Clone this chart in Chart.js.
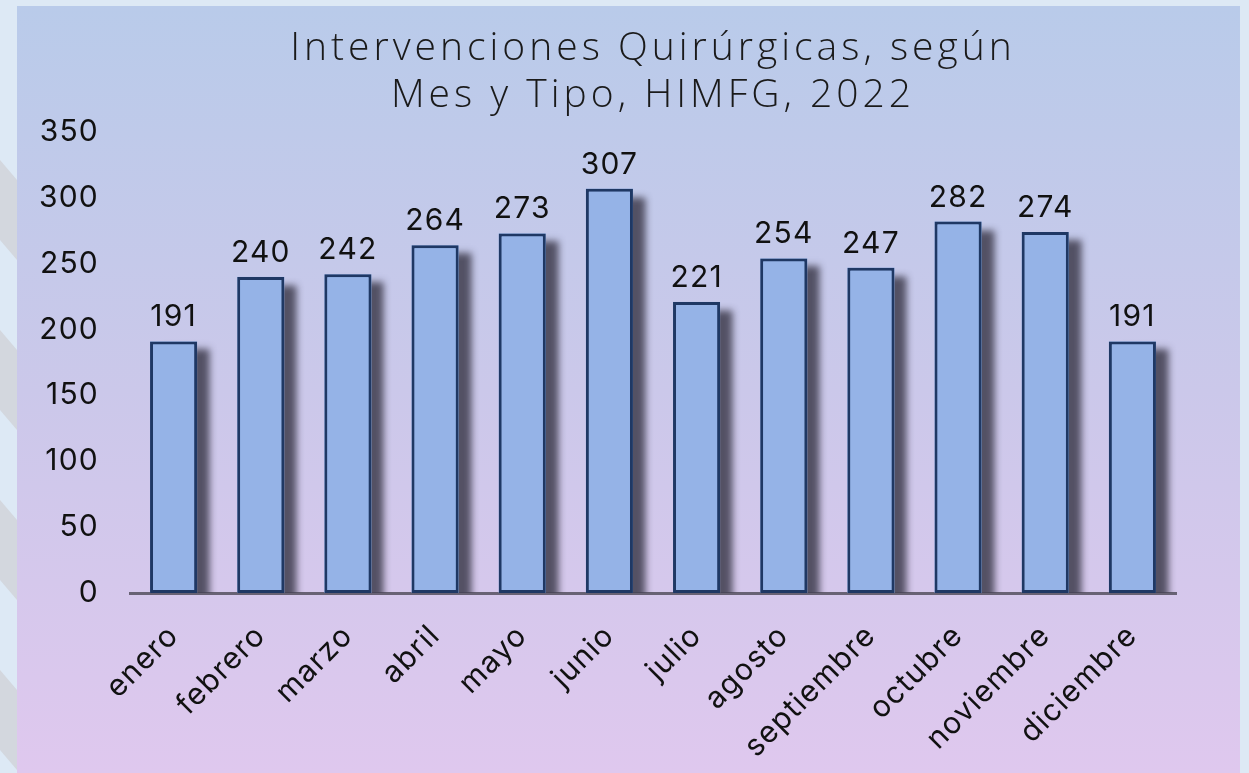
<!DOCTYPE html>
<html>
<head>
<meta charset="utf-8">
<script src="https://cdn.jsdelivr.net/npm/chart.js@4.4.0/dist/chart.umd.min.js"></script>
<style>
  html, body { margin: 0; padding: 0; background: #dde9f5; }
  #wrap { width: 1249px; height: 773px; position: relative; }
</style>
</head>
<body>
<div id="wrap"><canvas id="c" width="1249" height="773"></canvas></div>
<script>
const months = ['enero','febrero','marzo','abril','mayo','junio','julio','agosto','septiembre','octubre','noviembre','diciembre'];
const surgeries = [191, 240, 242, 264, 273, 307, 221, 254, 247, 282, 274, 191];
const titleLines = ['Intervenciones Quirúrgicas, según', 'Mes y Tipo, HIMFG, 2022'];
const yTickMin = 0, yTickMax = 350, yTickStep = 50;

const FONT = 'Inter, "Open Sans", sans-serif';

const bgPlugin = {
  id: 'bg',
  beforeDraw(chart) {
    const ctx = chart.ctx, W = chart.width, H = chart.height;
    ctx.save();
    ctx.fillStyle = '#dde9f5';
    ctx.fillRect(0, 0, W, H);
    ctx.beginPath(); ctx.rect(0, 0, 17, H); ctx.clip();
    ctx.fillStyle = '#d3d7de';
    for (let s = -20; s < H + 100; s += 170) {
      ctx.beginPath();
      ctx.moveTo(0, s + 180); ctx.lineTo(17, s + 200);
      ctx.lineTo(17, s + 280); ctx.lineTo(0, s + 260);
      ctx.closePath(); ctx.fill();
    }
    ctx.restore();
    ctx.save();
    const g = ctx.createLinearGradient(0, 6, 0, H);
    g.addColorStop(0, '#b9cbea');
    g.addColorStop(0.5, '#cbc8ea');
    g.addColorStop(1, '#dfc8ee');
    ctx.fillStyle = g;
    ctx.fillRect(17, 6, 1223, H - 6);
    ctx.restore();
    try { ctx.letterSpacing = '1.2px'; } catch (e) {}
  }
};

const titlePlugin = {
  id: 'customTitle',
  afterDraw(chart) {
    const ctx = chart.ctx, a = chart.chartArea;
    ctx.save();
    ctx.font = '300 39px "Open Sans", Lato, sans-serif';
    ctx.fillStyle = '#1a1a1a';
    ctx.textAlign = 'center';
    ctx.textBaseline = 'middle';
    try { ctx.letterSpacing = '4px'; } catch (e) {}
    const cx = (a.left + a.right) / 2;
    ctx.fillText(titleLines[0], cx, 49);
    ctx.fillText(titleLines[1], cx, 96);
    ctx.restore();
  }
};

const shadowPlugin = {
  id: 'barShadow',
  beforeDatasetsDraw(chart) {
    const ctx = chart.ctx, a = chart.chartArea;
    const meta = chart.getDatasetMeta(0);
    ctx.save();
    ctx.beginPath(); ctx.rect(a.left, a.top - 20, a.right - a.left + 40, a.bottom - a.top + 20); ctx.clip();
    ctx.shadowColor = 'rgba(70,68,85,0.9)';
    ctx.shadowBlur = 7;
    ctx.shadowOffsetX = 13;
    ctx.shadowOffsetY = 8;
    ctx.fillStyle = '#95b3e7';
    meta.data.forEach(b => {
      const p = b.getProps(['x','y','base','width'], true);
      ctx.fillRect(p.x - p.width / 2, p.y, p.width, p.base - p.y);
    });
    ctx.restore();
  },
  afterDatasetsDraw(chart) {
    const ctx = chart.ctx;
    const meta = chart.getDatasetMeta(0);
    ctx.save();
    ctx.font = '30px ' + FONT;
    ctx.fillStyle = '#111111';
    ctx.textAlign = 'center';
    ctx.textBaseline = 'alphabetic';
    meta.data.forEach((b, i) => {
      const p = b.getProps(['x','y'], true);
      ctx.fillText(String(surgeries[i]), p.x, p.y - 15);
    });
    ctx.restore();
  }
};

new Chart(document.getElementById('c'), {
  type: 'bar',
  data: {
    labels: months,
    datasets: [{
      data: surgeries,
      backgroundColor: '#95b3e7',
      borderColor: '#1f3864',
      borderWidth: 3,
      borderSkipped: false,
      barPercentage: 0.54,
      categoryPercentage: 1.0
    }]
  },
  options: {
    responsive: false,
    animation: false,
    devicePixelRatio: 1,
    layout: { padding: { top: 132, right: 73, bottom: 0, left: 0 } },
    plugins: { legend: { display: false }, title: { display: false }, tooltip: { enabled: false } },
    scales: {
      x: {
        grid: { display: false, drawTicks: false },
        border: { display: true, color: 'rgba(85,80,95,0.85)', width: 3 },
        ticks: {
          color: '#111111',
          font: { family: FONT, size: 30 },
          minRotation: 45, maxRotation: 45,
          padding: 25,
          autoSkip: false
        },
        afterFit(scale) { scale.height = 180; }
      },
      y: {
        min: yTickMin, max: yTickMax,
        grid: { display: false, drawTicks: false },
        border: { display: false },
        ticks: {
          stepSize: yTickStep,
          color: '#111111',
          font: { family: FONT, size: 30 },
          padding: 31
        },
        afterFit(scale) { scale.width = 130; }
      }
    }
  },
  plugins: [bgPlugin, shadowPlugin, titlePlugin]
});
</script>
</body>
</html>
